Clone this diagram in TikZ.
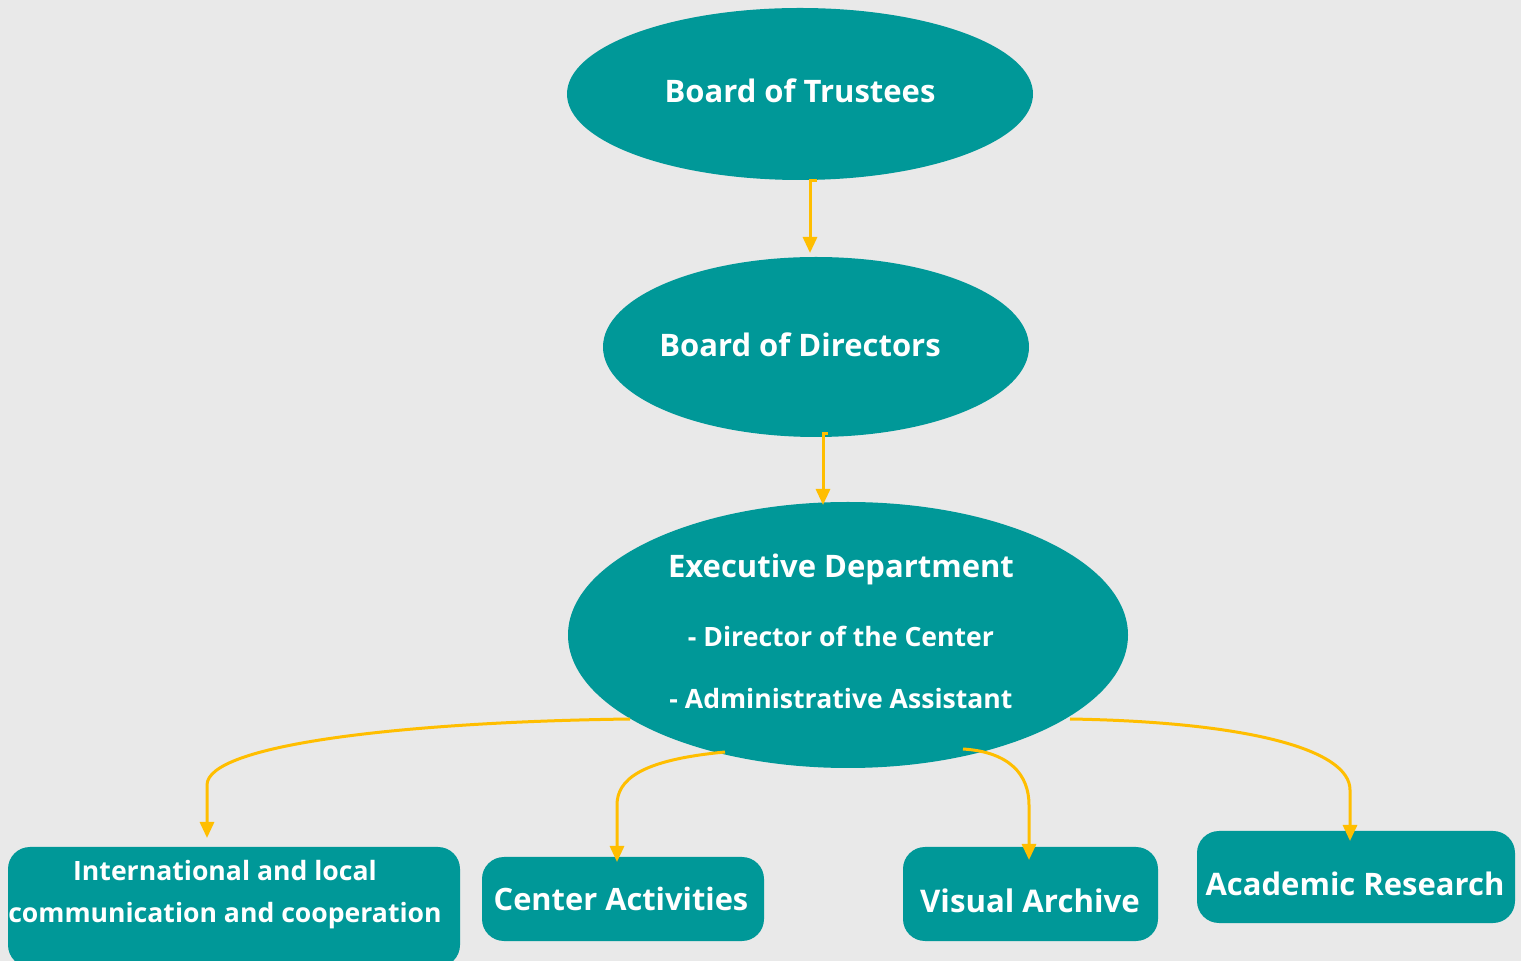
\documentclass[tikz,border=0pt]{standalone}
\usepackage{fontspec}
\setmainfont{Open Sans}
\usetikzlibrary{shapes.geometric,arrows.meta}
\definecolor{teal1}{RGB}{0,152,152}
\definecolor{gold1}{RGB}{255,190,0}
\definecolor{bg1}{RGB}{233,233,233}
\tikzset{
  ell/.style={ellipse, fill=teal1, inner sep=0pt},
  rbox/.style={rectangle, rounded corners=11pt, fill=teal1, inner sep=0pt},
  txt/.style={text=white, font=\bfseries, inner sep=0pt, align=center},
  arr/.style={draw=gold1, line width=1.5pt, -{Triangle[width=7pt,length=8pt]}},
}
\begin{document}
\begin{tikzpicture}[x=0.5pt,y=-0.5pt]
\fill[bg1] (0,0) rectangle (1521,961);
\useasboundingbox (0,0) rectangle (1521,961);
% ellipses
\node[ell, minimum width=233pt, minimum height=86pt] (bt) at (800,94) {};
\node[txt, font=\fontsize{15.5}{18}\bfseries\selectfont] (btt) at (800,91) {Board of Trustees};
\node[ell, minimum width=213pt, minimum height=90pt] (bd) at (816,347) {};
\node[txt, font=\fontsize{15.5}{18}\bfseries\selectfont] (bdt) at (800,345) {Board of Directors};
\node[ell, minimum width=280pt, minimum height=133pt] (ex) at (848,635) {};
\node[txt, font=\fontsize{15.5}{18}\bfseries\selectfont] (ex1) at (841,569) {Executive Department};
\node[txt, font=\fontsize{13.3}{16}\bfseries\selectfont] (ex2) at (841,636) {- Director of the Center};
\node[txt, font=\fontsize{13.3}{16}\bfseries\selectfont] (ex3) at (841,699) {- Administrative Assistant};
% boxes
\node[rbox, minimum width=226pt, minimum height=60pt] (b1) at (234,907) {};
\node[txt, font=\fontsize{13.3}{21}\bfseries\selectfont] (b1t) at (225,895) {International and local\\communication and cooperation};
\node[rbox, minimum width=141pt, minimum height=42pt] (b2) at (623,899) {};
\node[txt, font=\fontsize{15.4}{19}\bfseries\selectfont] (b2t) at (621,899) {Center Activities};
\node[rbox, minimum width=127.5pt, minimum height=47pt] (b3) at (1030.5,894) {};
\node[txt, font=\fontsize{15.6}{19}\bfseries\selectfont] (b3t) at (1030,901) {Visual Archive};
\node[rbox, minimum width=159pt, minimum height=46pt] (b4) at (1356,877) {};
\node[txt, font=\fontsize{15.5}{19}\bfseries\selectfont] (b4t) at (1355,884) {Academic Research};
% connector coordinates
\coordinate (a1s) at (817,181);
\coordinate (a1e) at (810,253);
\coordinate (a2s) at (828,434);
\coordinate (a2e) at (823,505);
\coordinate (a3s) at (630,719);
\coordinate (a3e) at (207,838);
\coordinate (a4s) at (725,752);
\coordinate (a4e) at (617,862);
\coordinate (a5s) at (963,749);
\coordinate (a5e) at (1029,860);
\coordinate (a6s) at (1070,719);
\coordinate (a6e) at (1350,841);
% connectors
\draw[arr] (a1s) -| (a1e);
\draw[arr] (a2s) -| (a2e);
\draw[arr] (a3s) .. controls (400,722) and (207,745) .. (207,785) -- (a3e);
\draw[arr] (a4s) .. controls (640,760) and (617,780) .. (617,805) -- (a4e);
\draw[arr] (a5s) .. controls (1010,752) and (1029,775) .. (1029,805) -- (a5e);
\draw[arr] (a6s) .. controls (1250,722) and (1350,750) .. (1350,790) -- (a6e);
\end{tikzpicture}
\end{document}
